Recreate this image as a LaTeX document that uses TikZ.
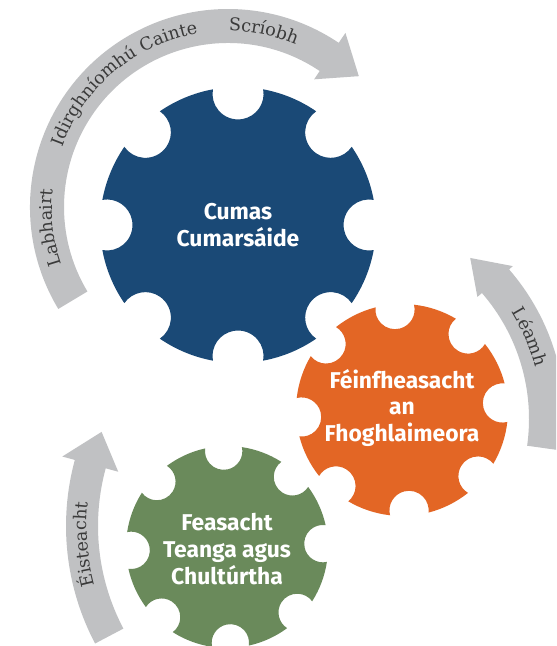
\documentclass[tikz,border=0pt]{standalone}
\usepackage{fontspec}
\setsansfont{Fira Sans}
\newfontfamily\arcserif{DejaVu Serif}
\definecolor{cogblue}{RGB}{26,73,118}
\definecolor{cogorange}{RGB}{227,102,37}
\definecolor{coggreen}{RGB}{106,138,91}
\definecolor{arcgray}{RGB}{192,193,195}
\definecolor{arctext}{RGB}{58,58,58}
\usetikzlibrary{calc, decorations.text}

\begin{document}
\begin{tikzpicture}[x=0.3mm, y=0.3mm,
    gear/.pic={
      \path[pic actions, preaction={draw=white, line width=2.8mm, line join=round}] (10.49:1)
        \foreach \a in {0,45,...,315} {
          arc[start angle=\a+10.49, end angle=\a+34.51, radius=1]
          arc[start angle=\a-34.63, end angle=\a-235.37, radius=0.185]
        } -- cycle;
    },
    gearlabel/.style={font=\sffamily\bfseries\fontsize{19.5}{23}\selectfont,
      text=white, align=center},
    arcband/.style={fill=arcgray},
    arclabel/.style={decorate, decoration={text along path, text align=center,
      text color=arctext, text={|\arcserif\fontsize{15}{17}\selectfont|#1}}},
  ]
    \useasboundingbox (0,0) rectangle (556,646);
    \clip (0,0) rectangle (556,646);

    \coordinate (toparc) at (228,439);
    \coordinate (rightarc) at (337,227);
    \coordinate (leftarc) at (318,120);

    % curved arrows
    \fill[arcband] ($(toparc)+(211:198)$) arc[start angle=211, end angle=56, radius=198]
      -- ($(toparc)+(56:210)$) -- ($(toparc)+(45:185)$) -- ($(toparc)+(56:154)$)
      -- ($(toparc)+(56:164)$) arc[start angle=56, end angle=211, radius=164] -- cycle;
    \fill[arcband] ($(rightarc)+(-8:228)$) arc[start angle=-8, end angle=41, radius=228]
      -- ($(rightarc)+(41:233)$) -- ($(rightarc)+(50.4:209)$) -- ($(rightarc)+(41:186)$)
      -- ($(rightarc)+(41:192)$) arc[start angle=41, end angle=-8, radius=192] -- cycle;
    \fill[arcband] ($(leftarc)+(207.8:252)$) arc[start angle=207.8, end angle=164.8, radius=252]
      -- ($(leftarc)+(164.8:265)$) -- ($(leftarc)+(156.5:236)$) -- ($(leftarc)+(164.8:207)$)
      -- ($(leftarc)+(164.8:220)$) arc[start angle=164.8, end angle=207.8, radius=220] -- cycle;

    % labels on the arrows
    \path[arclabel=Labhairt] ($(toparc)+(216.7:176)$) arc[start angle=216.7, end angle=156.7, radius=176];
    \path[arclabel=Idirghníomhú Cainte] ($(toparc)+(175:176)$) arc[start angle=175, end angle=85, radius=176];
    \path[arclabel=Scríobh] ($(toparc)+(100:176)$) arc[start angle=100, end angle=57, radius=176];
    \path[arclabel=Léamh] ($(rightarc)+(45:205)$) arc[start angle=45, end angle=1, radius=205];
    \path[arclabel=Éisteacht] ($(leftarc)+(205:231)$) arc[start angle=205, end angle=164, radius=231];

    % gears
    \pic[fill=cogblue, scale=138] at (238,421) {gear};
    \pic[fill=coggreen, scale=101, rotate=2] at (227,99) {gear};
    \pic[fill=cogorange, scale=106, rotate=4] at (402,236) {gear};

    \node[gearlabel] (cumas) at (238,421) {Cumas\\Cumarsáide};
    \node[gearlabel] (feinfheasacht) at (402,238) {Féinfheasacht\\an\\Fhoghlaimeora};
    \node[gearlabel] (feasacht) at (227,97) {Feasacht\\Teanga agus\\Chultúrtha};
  \end{tikzpicture}
\end{document}
